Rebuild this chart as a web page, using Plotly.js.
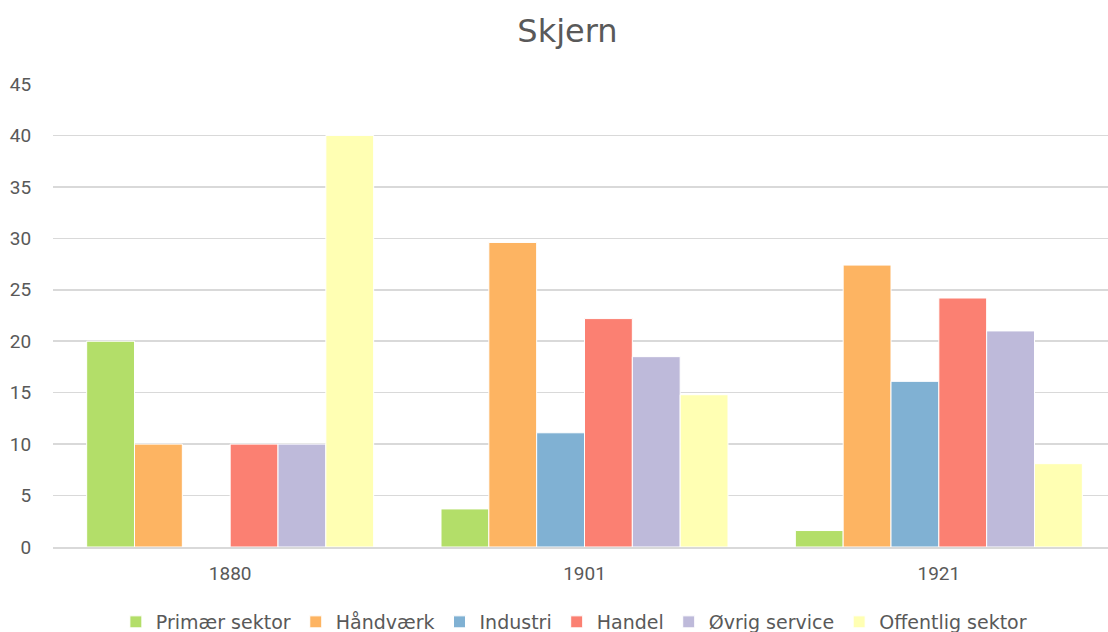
<!DOCTYPE html>
<html>
<head>
<meta charset="utf-8">
<script src="https://cdn.plot.ly/plotly-3.0.1.min.js"></script>
<style>html,body{margin:0;padding:0;overflow:hidden;background:#fff}</style>
</head>
<body>
<div id="chart" style="width:1116px;height:632px"></div>
<script>
const years = ["1880", "1901", "1921"];
const seriesNames = ["Primær sektor", "Håndværk", "Industri", "Handel", "Øvrig service", "Offentlig sektor"];
const primaer = [20, 3.7, 1.6];
const haandvaerk = [10, 29.6, 27.4];
const industri = [0, 11.1, 16.1];
const handel = [10, 22.2, 24.2];
const oevrig = [10, 18.5, 21.0];
const offentlig = [40, 14.8, 8.1];
const colors = ["#b3de69", "#fdb462", "#80b1d3", "#fb8072", "#bebada", "#ffffb3"];

const values = [primaer, haandvaerk, industri, handel, oevrig, offentlig];
const traces = seriesNames.map((n, i) => ({
  type: "bar",
  name: n,
  x: years,
  y: values[i],
  marker: {color: colors[i], line: {color: "#ffffff", width: 1}},
  hoverinfo: "x+y+name"
}));

const layout = {
  width: 1116,
  height: 632,
  paper_bgcolor: "#ffffff",
  plot_bgcolor: "#ffffff",
  margin: {l: 53, r: 0, t: 84, b: 85, autoexpand: false},
  title: {text: "Skjern", x: 0.5085, xanchor: "center", y: 0.952, yanchor: "middle",
          font: {family: "DejaVu Sans", size: 32, color: "#595959"}},
  barmode: "group",
  bargap: 0.19,
  bargroupgap: 0,
  xaxis: {
    type: "category",
    tickfont: {family: "Roboto", size: 19, color: "#595959"},
    showgrid: false,
    showline: true, linecolor: "#d9d9d9", linewidth: 1.5,
    ticks: "outside", ticklen: 9, tickcolor: "rgba(0,0,0,0)"
  },
  yaxis: {
    range: [0, 45],
    dtick: 5,
    tick0: 0,
    tickfont: {family: "Roboto", size: 19, color: "#595959"},
    gridcolor: "#d9d9d9", gridwidth: 1.5,
    zeroline: false,
    showline: false,
    ticks: "outside", ticklen: 17, tickcolor: "rgba(0,0,0,0)"
  },
  legend: {
    orientation: "h", x: 0.49, xanchor: "center", y: -0.162, yanchor: "middle",
    font: {family: "DejaVu Sans", size: 19, color: "#595959"},
    itemwidth: 30, tracegroupgap: 0
  },
  showlegend: true
};

Plotly.newPlot("chart", traces, layout, {displayModeBar: false, staticPlot: true});
</script>
</body>
</html>
